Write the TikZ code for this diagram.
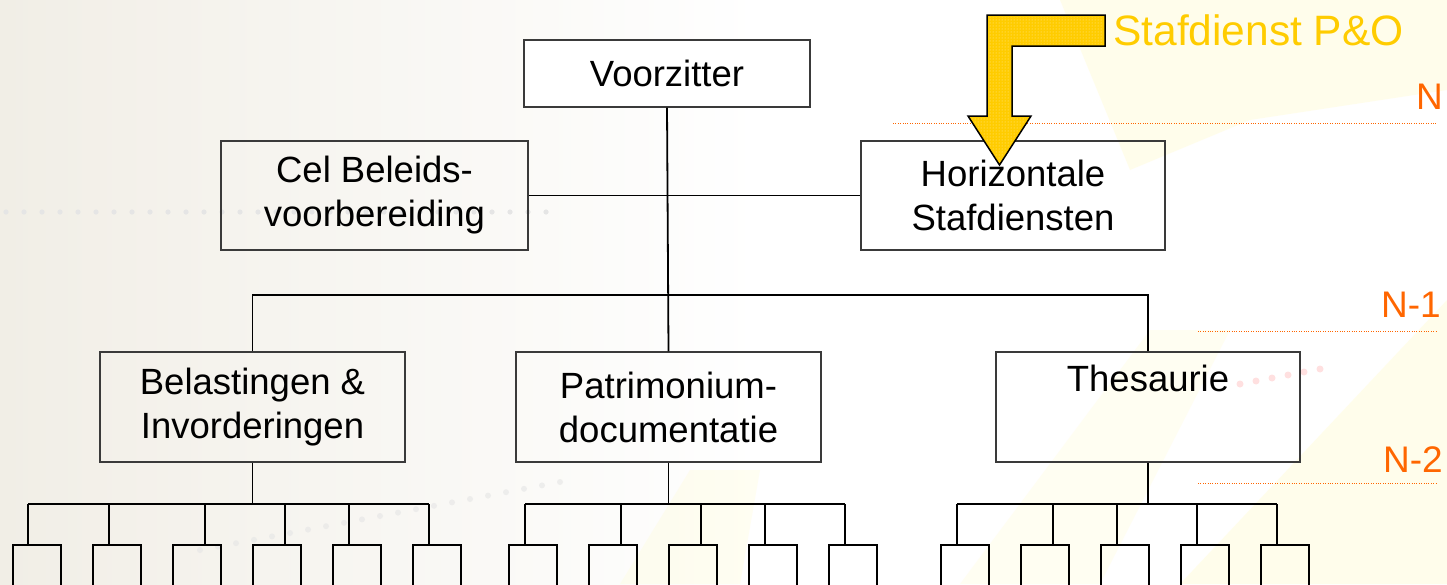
\documentclass[tikz,border=0pt]{standalone}
\usepackage{fontspec}
\setmainfont{Liberation Sans}
\usetikzlibrary{patterns}
\definecolor{lvl}{HTML}{FF6600}
\definecolor{pogold}{HTML}{FFCC00}
\definecolor{bgcream}{HTML}{F1EEE6}
\definecolor{boxline}{HTML}{3A3A3A}
\tikzset{
  unit/.style={draw=boxline, line width=1.3pt, inner sep=0pt, align=center,
    font=\fontsize{36.5}{44}\selectfont},
  leaf/.style={draw=black, line width=1.8pt, inner sep=0pt,
    minimum width=48pt, minimum height=60pt},
  link/.style={draw=black, line width=1.8pt},
  lvlline/.style={draw=lvl, line width=0.9pt, dash pattern=on 0.9pt off 1.5pt},
  lvllabel/.style={text=lvl, anchor=east, inner sep=0pt,
    font=\fontsize{37}{40}\selectfont},
  bgdot/.style={fill=black!10}
}
\begin{document}
\begin{tikzpicture}[x=1pt,y=-1pt]
\useasboundingbox (0,0) rectangle (1447,584);
\clip (0,0) rectangle (1447,584);

% soft backdrop: cream on the left, pale yellow streaks on the right
\shade[left color=bgcream, right color=white] (0,0) rectangle (760,584);
\fill[white] (760,0) rectangle (1447,584);
\fill[yellow!30, opacity=0.25] (1060,0) -- (1447,0) -- (1447,90) -- (1250,120) -- (1130,170) -- cycle;
\fill[yellow!30, opacity=0.25] (1180,584) -- (1447,300) -- (1447,584) -- cycle;
\fill[yellow!25, opacity=0.2] (960,584) -- (1150,330) -- (1230,330) -- (1100,584) -- cycle;
\fill[yellow!25, opacity=0.2] (620,584) -- (690,470) -- (760,470) -- (740,584) -- cycle;
\foreach \i in {0,...,30} \fill[bgdot] (6+\i*18,212) circle (2.6pt);
\foreach \i in {0,...,20} \fill[bgdot, opacity=0.6] ({200+\i*18},{550-\i*3.4}) circle (3pt);
\foreach \i in {0,...,5} \fill[red!12] ({1240+\i*16},{384-\i*3}) circle (3.5pt);

% level markers
\node[lvllabel] (lN)  at (1443,97)  {N};
\node[lvllabel] (lN1) at (1441,305) {N-1};
\node[lvllabel] (lN2) at (1443,460) {N-2};
\coordinate (dN0) at (893,123);  \coordinate (dN1) at (1436,123);
\coordinate (dA0) at (1198,331); \coordinate (dA1) at (1437,331);
\coordinate (dB0) at (1198,483); \coordinate (dB1) at (1437,483);
\draw[lvlline] (dN0) -- (dN1);
\draw[lvlline] (dA0) -- (dA1);
\draw[lvlline] (dB0) -- (dB1);

% top of the organisation
\node[unit, fill=white, minimum width=286pt, minimum height=67pt] (vz) at (667,73.5) {Voorzitter};
\node[unit, minimum width=307pt, minimum height=109pt] (cel) at (374.5,195.5) {Cel Beleids-\\voorbereiding};
\node[unit, minimum width=304pt, minimum height=109pt] (hor) at (1013,195.5) {Horizontale\\Stafdiensten};

% departments
\node[unit, minimum width=305pt, minimum height=110pt] (bel) at (252.5,407) {Belastingen \&\\Invorderingen};
\node[unit, minimum width=305pt, minimum height=110pt] (pat) at (668.5,407) {Patrimonium-\\documentatie};
\node[unit, minimum width=304pt, minimum height=110pt] (the) at (1148,407) {Thesaurie\\\strut};

% main connectors
\coordinate (busL) at (252.5,295);
\coordinate (busR) at (1148,295);
\draw[link] (vz.south) -- (pat.north);
\draw[link] (cel.east) -- (hor.west);
\draw[link] (bel.north) -- (busL) -- (busR) -- (the.north);

% sub-units below each department: box centre / attachment x
\foreach \n/\c/\l in {b1/37/28, b2/117/109, b3/197/205, b4/277/285, b5/357/349, b6/437/429,
                      p1/533/525, p2/613/621, p3/693/701, p4/773/765, p5/853/845,
                      t1/965/957, t2/1045/1053, t3/1125/1117, t4/1205/1197, t5/1285/1277}{
  \node[leaf] (\n) at (\c,575) {};
  \coordinate (\n bus) at (\l,504);
  \draw[link] (\n bus) -- (\n bus |- \n.north);
}
\coordinate (belbus) at (bel.south |- b1bus);
\coordinate (patbus) at (pat.south |- p1bus);
\coordinate (thebus) at (the.south |- t1bus);
\draw[link] (bel.south) -- (belbus);
\draw[link] (pat.south) -- (patbus);
\draw[link] (the.south) -- (thebus);
\draw[link] (b1bus) -- (b6bus);
\draw[link] (p1bus) -- (p5bus);
\draw[link] (t1bus) -- (t5bus);

% staff service P&O feeding into the horizontal staff services
\node[text=pogold, anchor=west, inner sep=0pt, font=\fontsize{42.5}{46}\selectfont] (po) at (1113,30) {Stafdienst P\&O};
\path[fill=pogold, draw=black, line width=1.5pt, line join=miter]
  (1105,15) -- (987,15) -- (987,116) -- (968,116) -- (999.5,165) -- (1031,116)
  -- (1012,116) -- (1012,46) -- (1105,46) -- cycle;
\path[pattern=dots, pattern color=white!60!pogold]
  (1103,17) -- (989,17) -- (989,118) -- (972,118) -- (999.5,161) -- (1027,118)
  -- (1010,118) -- (1010,44) -- (1103,44) -- cycle;
\end{tikzpicture}
\end{document}
